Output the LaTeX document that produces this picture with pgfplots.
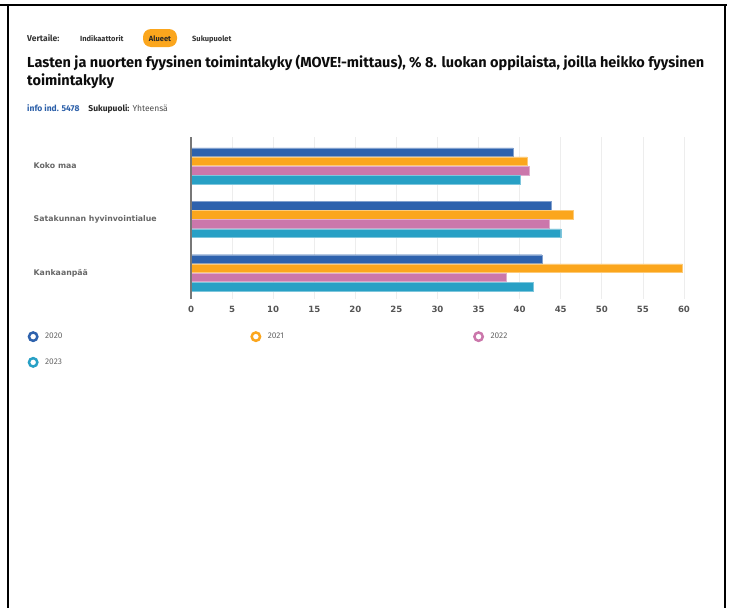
\documentclass[border=0pt]{standalone}
\usepackage{pgfplots}
\pgfplotsset{compat=1.18}
\usepackage{fontspec}
\setmainfont{Fira Sans}
\newfontfamily\dejavu{DejaVu Sans}
\definecolor{c2020}{HTML}{2E62AD}
\definecolor{c2021}{HTML}{FBA61D}
\definecolor{c2022}{HTML}{CB77AB}
\definecolor{c2023}{HTML}{28A0C5}
\definecolor{gridc}{HTML}{EDEDED}
\definecolor{axc}{HTML}{777777}
\definecolor{tickc}{HTML}{555555}
\definecolor{linkc}{HTML}{2A5EA8}
\begin{document}
\begin{tikzpicture}
\path[use as bounding box] (0pt,0pt) rectangle (734pt,-608pt);
% frame of the screenshot
\draw[line width=2pt] (0pt,-5pt) -- (727pt,-5pt);
\draw[line width=2pt] (8pt,-5pt) -- (8pt,-608pt);
\draw[line width=2pt] (725pt,-5pt) -- (725pt,-608pt);
% header
\node[anchor=base west, inner sep=0pt, text=black!80] at (27pt,-41pt) {\fontsize{8.5}{10}\selectfont\bfseries Vertaile:};
\node[anchor=base west, inner sep=0pt, text=black!80] at (80pt,-41pt) {\fontsize{7.5}{9}\selectfont\bfseries Indikaattorit};
\fill[c2021, rounded corners=8pt] (143pt,-29pt) rectangle (177pt,-47pt);
\node[anchor=base, inner sep=0pt, text=black!85] at (160pt,-41pt) {\fontsize{7.5}{9}\selectfont\bfseries Alueet};
\node[anchor=base west, inner sep=0pt, text=black!80] at (192pt,-41pt) {\fontsize{7.5}{9}\selectfont\bfseries Sukupuolet};
% title
\node[anchor=base west, inner sep=0pt, text=black!95] at (27pt,-67pt) {\fontsize{14.5}{18}\selectfont\bfseries Lasten ja nuorten fyysinen toimintakyky (MOVE!-mittaus), \% 8. luokan oppilaista, joilla heikko fyysinen};
\node[anchor=base west, inner sep=0pt, text=black!95] at (27pt,-85pt) {\fontsize{14.5}{18}\selectfont\bfseries toimintakyky};
% info line
\node[anchor=base west, inner sep=0pt] at (27pt,-111pt) {\fontsize{8.5}{10}\selectfont{\color{linkc}\bfseries info ind. 5478}\hspace{9pt}{\color{black!85}\bfseries Sukupuoli:} {\color{black!70}Yhteensä}};
\begin{axis}[
  at={(191pt,-299pt)}, anchor=south west,
  scale only axis, width=493pt, height=162pt,
  xbar, bar width=8.6pt,
  xmin=0, xmax=60, ymin=-0.49, ymax=2.54,
  clip=false,
  axis line style={draw=none},
  xtick={0,5,...,60},
  ytick={0,1,2},
  yticklabels={Kankaanpää, Satakunnan hyvinvointialue, Koko maa},
  major tick length=0pt,
  xmajorgrids, major grid style={gridc, line width=0.8pt},
  /pgf/number format/assume math mode=true,
  xticklabel style={font=\dejavu\bfseries\fontsize{8.6}{10}\selectfont, text=tickc, yshift=-4pt},
  yticklabel style={font=\dejavu\bfseries\fontsize{7.8}{10}\selectfont, text=black!60, anchor=west, inner sep=0pt, xshift=-157.5pt},
  legend columns=3,
  legend style={at={(-0.3316,-0.1975)}, anchor=north west, draw=none, fill=none, inner sep=0pt, column sep=0pt, row sep=14.8pt, nodes={inner sep=0pt, font=\fontsize{8.3}{9}\selectfont, text=black!60}},
  legend cell align=left,
]
\addplot[fill=c2020, draw=c2020!60!white, line width=0.4pt, bar shift=13.8pt,
  legend image code/.code={\draw[draw=c2020, line width=2.5pt, fill=white] (0pt,0pt) circle (4.2pt);}]
  coordinates {(39.2,2) (43.8,1) (42.7,0)};
\addplot[fill=c2021, draw=c2021!60!white, line width=0.4pt, bar shift=4.6pt,
  legend image code/.code={\draw[draw=c2021, line width=2.5pt, fill=white] (0pt,0pt) circle (4.2pt);}]
  coordinates {(40.9,2) (46.5,1) (59.8,0)};
\addplot[fill=c2022, draw=c2022!60!white, line width=0.4pt, bar shift=-4.6pt,
  legend image code/.code={\draw[draw=c2022, line width=2.5pt, fill=white] (0pt,0pt) circle (4.2pt);}]
  coordinates {(41.2,2) (43.6,1) (38.4,0)};
\addplot[fill=c2023, draw=c2023!60!white, line width=0.4pt, bar shift=-13.8pt,
  legend image code/.code={\draw[draw=c2023, line width=2.5pt, fill=white] (0pt,0pt) circle (4.2pt);}]
  coordinates {(40.1,2) (45.0,1) (41.7,0)};
\legend{\makebox[211.8pt][l]{\hspace{6.5pt}2020},\makebox[211.8pt][l]{\hspace{6.5pt}2021},\makebox[211.8pt][l]{\hspace{6.5pt}2022},\makebox[211.8pt][l]{\hspace{6.5pt}2023}}
\draw[axc, line width=2pt] (axis cs:0,-0.49) -- (axis cs:0,2.54);
\end{axis}
\end{tikzpicture}
\end{document}
